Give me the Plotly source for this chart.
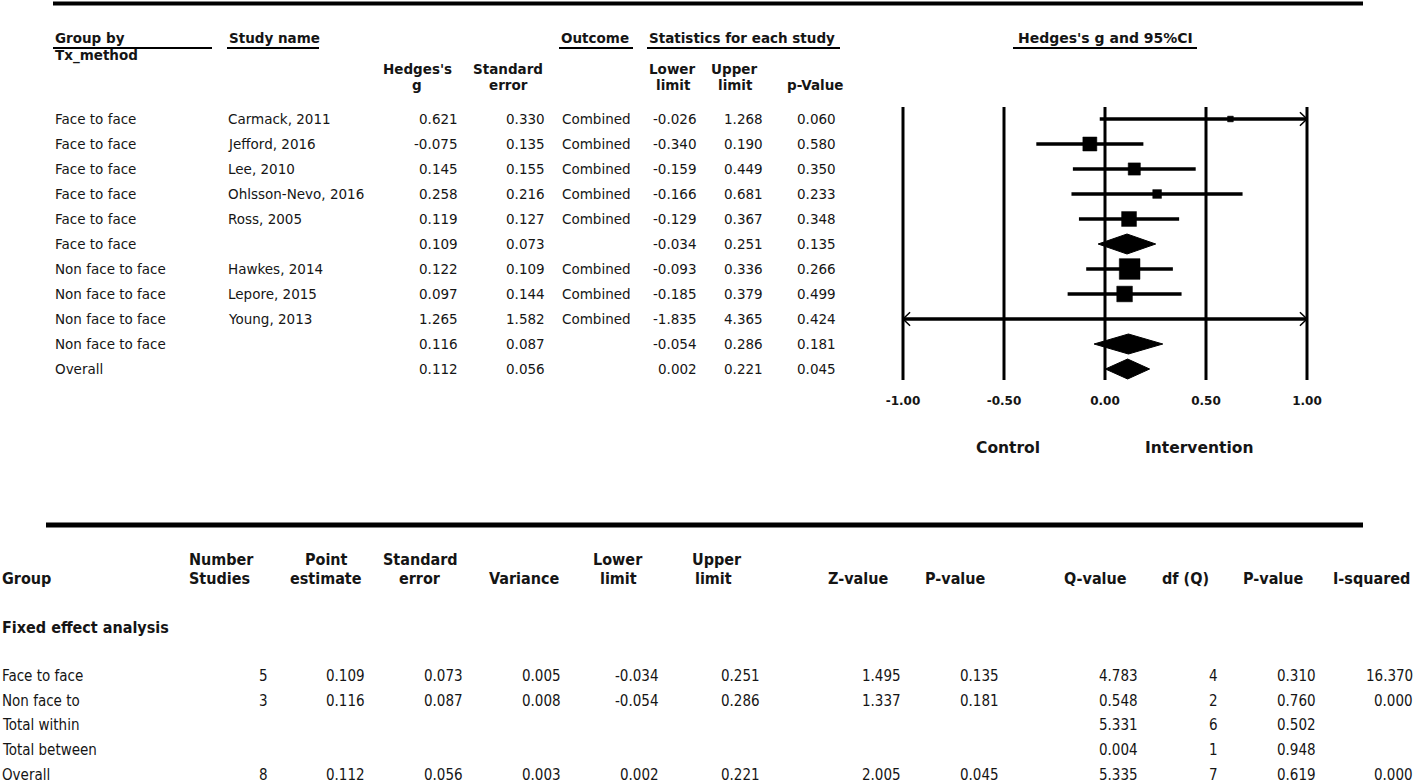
import math
import plotly.graph_objects as go

W, H = 1418, 784

# ---------------- study-level data (top panel) ----------------
groups = ["Face to face", "Face to face", "Face to face", "Face to face", "Face to face", "Face to face",
          "Non face to face", "Non face to face", "Non face to face", "Non face to face", "Overall"]
studies = ["Carmack, 2011", "Jefford, 2016", "Lee, 2010", "Ohlsson-Nevo, 2016", "Ross, 2005", "",
           "Hawkes, 2014", "Lepore, 2015", "Young, 2013", "", ""]
hedges_g = [0.621, -0.075, 0.145, 0.258, 0.119, 0.109, 0.122, 0.097, 1.265, 0.116, 0.112]
std_err = [0.330, 0.135, 0.155, 0.216, 0.127, 0.073, 0.109, 0.144, 1.582, 0.087, 0.056]
outcome = ["Combined", "Combined", "Combined", "Combined", "Combined", "",
           "Combined", "Combined", "Combined", "", ""]
lower = [-0.026, -0.340, -0.159, -0.166, -0.129, -0.034, -0.093, -0.185, -1.835, -0.054, 0.002]
upper = [1.268, 0.190, 0.449, 0.681, 0.367, 0.251, 0.336, 0.379, 4.365, 0.286, 0.221]
p_value = [0.060, 0.580, 0.350, 0.233, 0.348, 0.135, 0.266, 0.499, 0.424, 0.181, 0.045]
is_summary = [False, False, False, False, False, True, False, False, False, True, True]

tick_vals = [-1.0, -0.5, 0.0, 0.5, 1.0]

# ---------------- summary table data (bottom panel) ----------------
sum_group = ["Face to face", "Non face to", "Total within", "Total between", "Overall"]
sum_n = [5, 3, None, None, 8]
sum_point = [0.109, 0.116, None, None, 0.112]
sum_se = [0.073, 0.087, None, None, 0.056]
sum_var = [0.005, 0.008, None, None, 0.003]
sum_lower = [-0.034, -0.054, None, None, 0.002]
sum_upper = [0.251, 0.286, None, None, 0.221]
sum_z = [1.495, 1.337, None, None, 2.005]
sum_p = [0.135, 0.181, None, None, 0.045]
sum_q = [4.783, 0.548, 5.331, 0.004, 5.335]
sum_df = [4, 2, 6, 1, 7]
sum_pq = [0.310, 0.760, 0.502, 0.948, 0.619]
sum_i2 = [16.370, 0.000, None, None, 0.000]

# ---------------- geometry / style ----------------
ROW0, ROWH = 119, 25            # pixel y of first row, row spacing
X_M1, X_P1 = 903, 1307          # pixel x of -1 and +1
PX_PER_UNIT = (X_P1 - X_M1) / 2.0
XR = (-1.2, 1.2)
x_dom = [(X_M1 + (XR[0] + 1) * PX_PER_UNIT) / W, (X_P1 + (XR[1] - 1) * PX_PER_UNIT) / W]
y_range = [(H - ROW0) / ROWH, -ROW0 / ROWH]

FONT = "DejaVu Sans, Verdana, sans-serif"
NARROW = "Liberation Sans Narrow, Arial Narrow, DejaVu Sans Condensed, Liberation Sans, sans-serif"
TXT = "#151515"


def fx(x):
    return x / W


def fy(y):
    return 1 - y / H


def fmt(v, d=3):
    return "" if v is None else f"{v:.{d}f}"


fig = go.Figure()

# vertical reference lines
vx, vy = [], []
y_top, y_bot = (107 - ROW0) / ROWH, (380 - ROW0) / ROWH
for t in tick_vals:
    vx += [t, t, None]
    vy += [y_top, y_bot, None]
fig.add_trace(go.Scatter(x=vx, y=vy, mode="lines", line=dict(color="black", width=3),
                         hoverinfo="skip", showlegend=False))

# confidence interval lines (clipped at +-1 with arrows)
cx, cy, ax_, ay_ = [], [], [], []
aw, ah = 0.035, 0.27
for i, (lo, hi, s) in enumerate(zip(lower, upper, is_summary)):
    if s:
        continue
    a, b = max(lo, tick_vals[0]), min(hi, tick_vals[-1])
    cx += [a, b, None]
    cy += [i, i, None]
    if hi > tick_vals[-1]:
        ax_ += [b - aw, b, b - aw, None]
        ay_ += [i - ah, i, i + ah, None]
    if lo < tick_vals[0]:
        ax_ += [a + aw, a, a + aw, None]
        ay_ += [i - ah, i, i + ah, None]
fig.add_trace(go.Scatter(x=cx, y=cy, mode="lines", line=dict(color="black", width=3.5),
                         hoverinfo="skip", showlegend=False))
fig.add_trace(go.Scatter(x=ax_, y=ay_, mode="lines", line=dict(color="black", width=1.5),
                         hoverinfo="skip", showlegend=False))

# study squares, size ~ sqrt(relative weight within subgroup)
wts = [1 / se ** 2 for se in std_err]
grp_tot = {}
for g, w, s in zip(groups, wts, is_summary):
    if not s:
        grp_tot[g] = grp_tot.get(g, 0) + w
mx, my, ms = [], [], []
for i, (g, w, s, est) in enumerate(zip(groups, wts, is_summary, hedges_g)):
    if s:
        continue
    mx.append(est)
    my.append(i)
    ms.append(max(26 * math.sqrt(w / grp_tot[g]), 2))
fig.add_trace(go.Scatter(x=mx, y=my, mode="markers",
                         marker=dict(symbol="square", size=ms, color="#000000", opacity=1,
                                     line=dict(width=0.5, color="#000000")),
                         hoverinfo="skip", showlegend=False))

# summary diamonds
for i, (lo, est, hi, s) in enumerate(zip(lower, hedges_g, upper, is_summary)):
    if not s:
        continue
    fig.add_trace(go.Scatter(x=[lo, est, hi, est, lo], y=[i, i - 0.4, i, i + 0.4, i],
                             mode="lines", fill="toself", fillcolor="black",
                             line=dict(color="black", width=1),
                             hoverinfo="skip", showlegend=False))

ann = []


def add(text, x, y, xanchor="left", size=13.5, bold=False, family=FONT, yref="paper"):
    ann.append(dict(text=f"<b>{text}</b>" if bold else text, x=fx(x), xref="paper",
                    y=(y if yref == "y" else fy(y)), yref=yref,
                    xanchor=xanchor, yanchor="middle", showarrow=False,
                    font=dict(family=family, size=size, color=TXT)))


# ---- top table headers ----
HS = 13.5
add("Group by", 53, 38, bold=True, size=HS)
add("Tx_method", 53, 56, bold=True, size=HS)
add("Study name", 227, 38, bold=True, size=HS)
add("Outcome", 559, 38, bold=True, size=HS)
add("Statistics for each study", 647, 38, bold=True, size=HS)
add("Hedges's g and 95%CI", 1105, 38, xanchor="center", bold=True, size=14)
add("Hedges's", 417, 69, xanchor="center", bold=True, size=HS)
add("g", 417, 85, xanchor="center", bold=True, size=HS)
add("Standard", 508, 69, xanchor="center", bold=True, size=HS)
add("error", 508, 85, xanchor="center", bold=True, size=HS)
add("Lower", 672, 69, xanchor="center", bold=True, size=HS)
add("limit", 673, 85, xanchor="center", bold=True, size=HS)
add("Upper", 734, 69, xanchor="center", bold=True, size=HS)
add("limit", 735, 85, xanchor="center", bold=True, size=HS)
add("p-Value", 815, 85, xanchor="center", bold=True, size=HS)

# ---- top table rows ----
for i in range(len(groups)):
    add(groups[i], 53, i, yref="y")
    if studies[i]:
        add(studies[i], 226, i, yref="y")
    add(fmt(hedges_g[i]), 460, i, xanchor="right", yref="y")
    add(fmt(std_err[i]), 547, i, xanchor="right", yref="y")
    if outcome[i]:
        add(outcome[i], 560, i, yref="y")
    add(fmt(lower[i]), 699, i, xanchor="right", yref="y")
    add(fmt(upper[i]), 765, i, xanchor="right", yref="y")
    add(fmt(p_value[i]), 838, i, xanchor="right", yref="y")

# ---- forest footer labels ----
add("Control", 1008, 448, xanchor="center", bold=True, size=15.5)
add("Intervention", 1199, 448, xanchor="center", bold=True, size=15.5)

# ---- bottom table ----
BH = 16     # header font size
BS = 15     # body font size
add("Group", 0, 578, bold=True, size=BH, family=NARROW)
add("Number", 187, 559, bold=True, size=BH, family=NARROW)
add("Studies", 187, 578, bold=True, size=BH, family=NARROW)
add("Point", 326, 559, xanchor="center", bold=True, size=BH, family=NARROW)
add("estimate", 326, 578, xanchor="center", bold=True, size=BH, family=NARROW)
add("Standard", 420, 559, xanchor="center", bold=True, size=BH, family=NARROW)
add("error", 420, 578, xanchor="center", bold=True, size=BH, family=NARROW)
add("Variance", 524, 578, xanchor="center", bold=True, size=BH, family=NARROW)
add("Lower", 618, 559, xanchor="center", bold=True, size=BH, family=NARROW)
add("limit", 618, 578, xanchor="center", bold=True, size=BH, family=NARROW)
add("Upper", 690, 559, bold=True, size=BH, family=NARROW)
add("limit", 693, 578, bold=True, size=BH, family=NARROW)
add("Z-value", 858, 578, xanchor="center", bold=True, size=BH, family=NARROW)
add("P-value", 956, 578, xanchor="center", bold=True, size=BH, family=NARROW)
add("Q-value", 1095, 578, xanchor="center", bold=True, size=BH, family=NARROW)
add("df (Q)", 1185, 578, xanchor="center", bold=True, size=BH, family=NARROW)
add("P-value", 1273, 578, xanchor="center", bold=True, size=BH, family=NARROW)
add("I-squared", 1371, 578, xanchor="center", bold=True, size=BH, family=NARROW)
add("Fixed effect analysis", 0, 627, bold=True, size=BH, family=NARROW)

row_y = [676, 701, 725, 750, 775]
cols = [(sum_n, 270, 0), (sum_point, 367, 3), (sum_se, 465, 3), (sum_var, 563, 3),
        (sum_lower, 661, 3), (sum_upper, 762, 3), (sum_z, 903, 3), (sum_p, 1001, 3),
        (sum_q, 1140, 3), (sum_df, 1220, 0), (sum_pq, 1318, 3), (sum_i2, 1415, 3)]
for r, yy in enumerate(row_y):
    add(sum_group[r], 0, yy, size=BS, family=NARROW)
    for arr, xr, d in cols:
        if arr[r] is not None:
            add(fmt(arr[r], d), xr, yy, xanchor="right", size=BS, family=NARROW)

# ---- rules / underlines ----
shapes = [
    dict(type="line", xref="paper", yref="paper", x0=fx(53), x1=fx(1363), y0=fy(3.5), y1=fy(3.5),
         line=dict(color="black", width=4)),
    dict(type="line", xref="paper", yref="paper", x0=fx(46), x1=fx(1363), y0=fy(525), y1=fy(525),
         line=dict(color="black", width=5)),
]
for a, b in [(53, 212), (227, 319), (559, 633), (647, 840), (1013, 1197)]:
    shapes.append(dict(type="line", xref="paper", yref="paper", x0=fx(a), x1=fx(b), y0=fy(48), y1=fy(48),
                       line=dict(color="black", width=2)))

fig.update_layout(
    width=W, height=H, margin=dict(l=0, r=0, t=0, b=0),
    paper_bgcolor="white", plot_bgcolor="white",
    xaxis=dict(domain=x_dom, range=list(XR), tickvals=tick_vals,
               ticktext=[f"{v:.2f}" for v in tick_vals],
               tickfont=dict(family=FONT, size=12, color=TXT, weight="bold"),
               showgrid=False, zeroline=False, showline=False, ticks="",
               anchor="free", position=fy(392)),
    yaxis=dict(domain=[0, 1], range=y_range, visible=False, showgrid=False, zeroline=False),
    annotations=ann, shapes=shapes, showlegend=False,
)

fig.write_html("out.html", config={"displayModeBar": False},
               post_script="document.body.style.margin='0';document.body.style.overflow='hidden';")
